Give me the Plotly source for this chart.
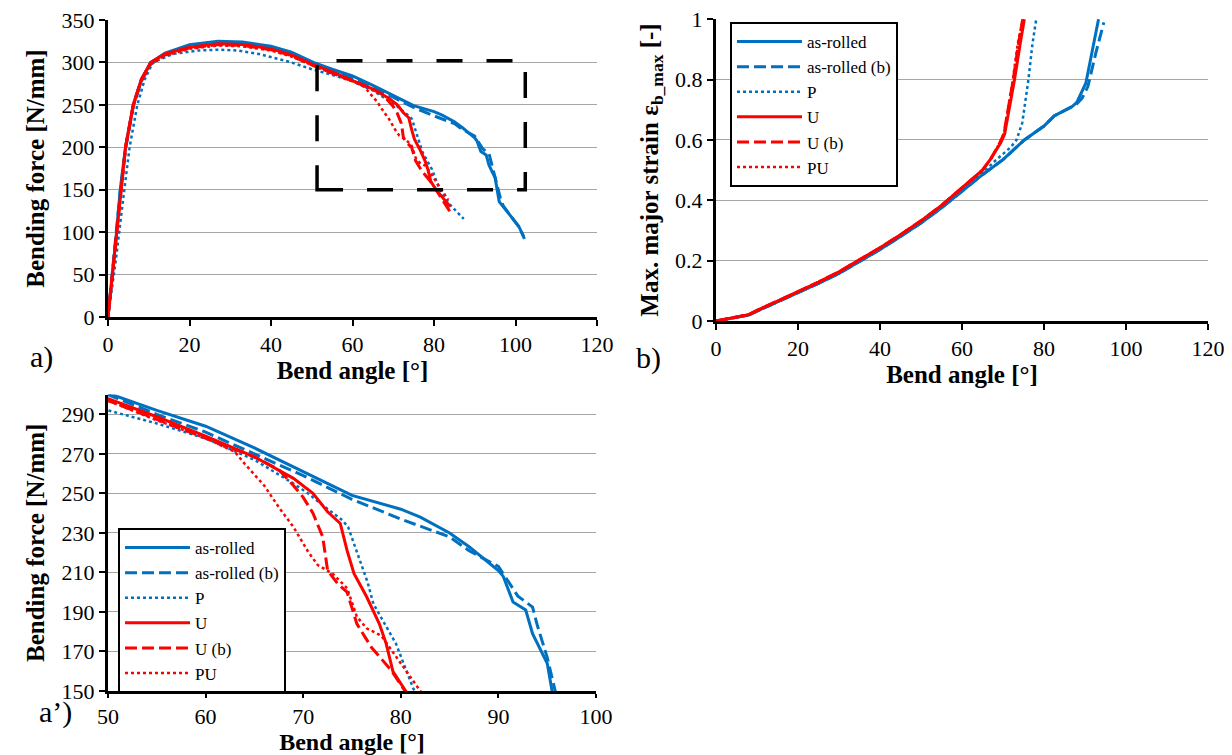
import plotly.graph_objects as go

# ---- bending force vs bend angle (panel a, zoomed in panel a') ----
ar_x = [0, 1, 2, 3, 4.3, 6.2, 8.2, 10.5, 14, 20, 27, 33, 40, 45, 50.4, 55, 60, 65, 70, 75, 80, 82, 85, 87,
        90, 90.5, 91.5, 92.8, 93.5, 95, 95.5, 96, 97, 98.8, 100.8, 102.2]
ar_y = [0, 45, 95, 150, 200, 250, 280, 300, 311, 321, 325, 324, 319, 312, 300, 292, 284, 273, 261, 249, 242, 238, 230, 223,
        211, 208, 195, 191, 179, 164, 150, 136, 130, 119, 107, 92]

arb_x = [0, 3, 4.3, 6.2, 8.2, 10.5, 14, 20, 27, 33, 40, 45, 50.5, 55, 60, 65, 70, 75, 80, 85, 87, 90, 92, 93.5, 94,
         95, 95.8, 96.3, 97, 99, 101, 102]
arb_y = [0, 148, 198, 248, 278, 298, 309, 319, 323, 322, 317, 310, 299, 290, 281, 270, 259, 247, 237, 228, 221, 213, 198, 192.5, 183,
         167, 150, 140, 131, 118, 105, 95]

p_x = [0, 2, 4, 5.3, 7.2, 9, 11, 16, 22, 27, 32, 37, 45, 50, 55, 60, 65, 69, 70.5, 72, 74, 74.6, 76.6, 77.2, 79.5,
       81.3, 84, 87.3]
p_y = [0, 70, 150, 200, 250, 280, 300, 310, 314, 315, 314, 310, 300, 292, 285.4, 277.8, 267, 255, 250, 244, 236.5, 233, 205, 194, 174,
       151, 132, 115.5]

u_x = [0, 3.1, 4.3, 6.2, 8.2, 10.5, 14, 20, 27, 33, 40, 45, 50, 55, 60, 65, 69, 71, 72.5, 73.8, 74.5, 75.2, 76.5,
       77.8, 78.5, 79.2, 80.5, 82, 84]
u_y = [0, 150, 200, 250, 280, 300, 310, 318, 322, 321, 316, 309, 298, 288.8, 279, 268.5, 257.6, 250, 240.7, 234.8, 221, 209.5, 197.7,
       184, 174, 159.8, 150, 141, 130]

ub_x = [0, 3.1, 4.3, 6.2, 8.2, 10.5, 14, 20, 27, 33, 40, 45, 50, 55, 60, 65, 67.5, 69, 70, 71, 72, 72.5, 73.5, 74.5,
        75.5, 77, 79, 80.5, 82.5, 84.4]
ub_y = [0, 150, 200, 250, 280, 300, 309, 317, 321, 320, 315, 308, 297, 287.5, 278, 268.5, 262, 254, 248, 240, 228, 211, 204.5, 200,
        184, 172, 160.6, 150, 135, 120.6]

pu_x = [0, 3.1, 4.3, 6.2, 8.2, 10.5, 14, 20, 27, 33, 40, 45, 50, 55, 60, 63, 64, 66, 67.5, 69, 70.5, 71.5, 73, 74.5,
        75.5, 76.5, 78, 80, 82, 83.5]
pu_y = [0, 148, 198, 248, 278, 298, 308, 316, 320, 319, 314, 307, 297, 287, 278, 271, 265, 254, 243, 233, 220.5, 213.7, 209.5, 202,
        187.6, 181.7, 178, 164, 150, 138]

# ---- max major strain vs bend angle (panel b) ----
sar_x = [0, 2, 4, 6, 8, 10, 15, 20, 25, 30, 35, 40, 45, 50, 55, 60, 65, 70, 75.2, 80, 82.5, 86.8, 88, 90.2, 91.7, 93.3]
sar_y = [0, 0.005, 0.01, 0.015, 0.02, 0.033, 0.063, 0.094, 0.125, 0.158, 0.197, 0.237, 0.28, 0.325, 0.375, 0.43, 0.485,
         0.535, 0.6, 0.646, 0.68, 0.71, 0.725, 0.788, 0.886, 1.0]

sarb_x = [0, 2, 4, 6, 8, 10, 15, 20, 25, 30, 35, 40, 45, 50, 55, 60, 65, 70, 75.2, 80, 82.5, 86, 87.8, 89.3, 90.7, 92.6, 94.6]
sarb_y = [0, 0.005, 0.01, 0.015, 0.02, 0.033, 0.063, 0.094, 0.125, 0.158, 0.197, 0.237, 0.28, 0.325, 0.375, 0.43, 0.485,
          0.535, 0.6, 0.646, 0.68, 0.705, 0.717, 0.739, 0.777, 0.886, 0.99]

sp_x = [0, 2, 4, 6, 8, 10, 15, 20, 25, 30, 35, 40, 45, 50, 55, 60, 65, 68, 71.8, 73.3, 74.7, 76.2, 77.2, 78.1]
sp_y = [0, 0.005, 0.01, 0.015, 0.02, 0.033, 0.063, 0.094, 0.125, 0.158, 0.197, 0.237, 0.28, 0.327, 0.378, 0.434, 0.49,
        0.53, 0.575, 0.6, 0.657, 0.8, 0.92, 1.0]

su_x = [0, 2, 4, 6, 8, 10, 15, 20, 25, 30, 35, 40, 45, 50, 55, 60, 65, 67, 69.4, 70.4, 71.8, 72.8, 74.2, 75.2]
su_y = [0, 0.006, 0.011, 0.016, 0.021, 0.035, 0.066, 0.097, 0.129, 0.163, 0.202, 0.243, 0.286, 0.332, 0.383, 0.44, 0.5,
        0.537, 0.59, 0.62, 0.72, 0.8, 0.92, 1.0]

sub_x = [0, 2, 4, 6, 8, 10, 15, 20, 25, 30, 35, 40, 45, 50, 55, 60, 65, 67, 69.2, 70.2, 71.5, 72.5, 73.8, 74.8]
sub_y = [0, 0.006, 0.011, 0.016, 0.021, 0.035, 0.066, 0.097, 0.129, 0.163, 0.202, 0.243, 0.286, 0.332, 0.383, 0.44, 0.5,
         0.537, 0.59, 0.62, 0.72, 0.8, 0.92, 1.0]

spu_x = [0, 2, 4, 6, 8, 10, 15, 20, 25, 30, 35, 40, 45, 50, 55, 60, 65, 67, 69.2, 70.2, 71.4, 72.4, 73.6, 74.6]
spu_y = [0, 0.006, 0.011, 0.016, 0.021, 0.035, 0.066, 0.097, 0.129, 0.163, 0.202, 0.243, 0.286, 0.332, 0.383, 0.44, 0.5,
         0.537, 0.59, 0.62, 0.72, 0.8, 0.92, 0.985]

labels = ["as-rolled", "as-rolled (b)", "P", "U", "U (b)", "PU"]
strain_ticks = [0, 0.2, 0.4, 0.6, 0.8, 1]
strain_ticktext = ["0", "0.2", "0.4", "0.6", "0.8", "1"]
# region of panel a shown enlarged in a'
zoom_box_x = [51.3, 102.4]
zoom_box_y = [150, 302]

BLUE = "#0070C0"
RED = "#FF0000"
styles = [(BLUE, "solid", 3), (BLUE, "12px,5px", 3), (BLUE, "3px,3px", 2.5),
          (RED, "solid", 3), (RED, "12px,5px", 3), (RED, "3px,3px", 2.5)]
FONT = "Liberation Serif"

force = [(ar_x, ar_y), (arb_x, arb_y), (p_x, p_y), (u_x, u_y), (ub_x, ub_y), (pu_x, pu_y)]
strain = [(sar_x, sar_y), (sarb_x, sarb_y), (sp_x, sp_y), (su_x, su_y), (sub_x, sub_y), (spu_x, spu_y)]

fig = go.Figure()

for (x, y), lab, (c, d, w) in zip(force, labels, styles):
    fig.add_trace(go.Scatter(x=x, y=y, mode="lines", name=lab, showlegend=False,
                             line=dict(color=c, dash=d, width=w), xaxis="x", yaxis="y"))
for (x, y), lab, (c, d, w) in zip(strain, labels, styles):
    fig.add_trace(go.Scatter(x=x, y=y, mode="lines", name=lab, legend="legend",
                             line=dict(color=c, dash=d, width=w), xaxis="x2", yaxis="y2"))
for (x, y), lab, (c, d, w) in zip(force, labels, styles):
    fig.add_trace(go.Scatter(x=x, y=y, mode="lines", name=lab, legend="legend2",
                             line=dict(color=c, dash=d, width=w), xaxis="x3", yaxis="y3"))

fig.add_shape(type="rect", xref="x", yref="y", x0=zoom_box_x[0], x1=zoom_box_x[1],
              y0=zoom_box_y[0], y1=zoom_box_y[1], line=dict(color="black", width=3.5, dash="26px,24px"))

# page body has an 8px margin, so the figure is 8px smaller and positions are shifted back by 8px
OFF = 8
W, H = 1232 - OFF, 755 - OFF


def px(xp):
    return (xp - OFF) / W


def py(yp):
    return 1 - (yp - OFF) / H


ax_common = dict(showline=True, linecolor="black", linewidth=3, ticks="outside", tickcolor="black",
                 tickwidth=2, ticklen=6, zeroline=False, automargin=False, ticklabeloverflow="allow",
                 tickfont=dict(family=FONT, size=22, color="black"))
grid = dict(showgrid=True, gridcolor="#a6a6a6", gridwidth=1.2)
title_font = dict(family=FONT, size=25, color="black")
legend_common = dict(xanchor="left", yanchor="top", bgcolor="white", bordercolor="black", borderwidth=2,
                     itemwidth=65, font=dict(family=FONT, size=17, color="black"))

fig.update_layout(
    width=W, height=H, margin=dict(l=0, r=0, t=0, b=0),
    paper_bgcolor="white", plot_bgcolor="white",
    font=dict(family=FONT, color="black"),
    xaxis=dict(domain=[px(108), px(597)], range=[0, 120], dtick=20, anchor="y", showgrid=False,
               title=dict(text="<b>Bend angle [°]</b>", font=title_font, standoff=2), **ax_common),
    yaxis=dict(domain=[py(317), py(20)], range=[0, 350], dtick=50, anchor="x",
               title=dict(text="<b>Bending force [N/mm]</b>", font=title_font, standoff=10), **grid, **ax_common),
    xaxis2=dict(domain=[px(716), px(1208)], range=[0, 120], dtick=20, anchor="y2", showgrid=False,
                title=dict(text="<b>Bend angle [°]</b>", font=title_font, standoff=4), **ax_common),
    yaxis2=dict(domain=[py(321), py(19)], range=[0, 1.001], tickmode="array", tickvals=strain_ticks,
                ticktext=strain_ticktext, anchor="x2",
                title=dict(text="<b>Max. major strain ε<sub>b_max</sub> [-]</b>", font=title_font, standoff=10),
                **grid, **ax_common),
    xaxis3=dict(domain=[px(108), px(596)], range=[50, 100], dtick=10, anchor="y3", showgrid=False,
                title=dict(text="<b>Bend angle [°]</b>", font=dict(family=FONT, size=24, color="black"),
                           standoff=0), **{**ax_common, "ticklen": 4}),
    yaxis3=dict(domain=[py(691), py(394.6)], range=[150, 300], tick0=150, dtick=20, anchor="x3",
                title=dict(text="<b>Bending force [N/mm]</b>", font=title_font, standoff=10), **grid, **ax_common),
    legend=dict(x=px(730), y=py(22), **legend_common),
    legend2=dict(x=px(118), y=py(528), **legend_common),
    annotations=[
        dict(text="a)", x=px(28), y=py(357), xref="paper", yref="paper", showarrow=False,
             font=dict(family=FONT, size=30, color="black")),
        dict(text="b)", x=px(648), y=py(358), xref="paper", yref="paper", showarrow=False,
             font=dict(family=FONT, size=30, color="black")),
        dict(text="a’)", x=px(37), y=py(731), xref="paper", yref="paper", showarrow=False,
             font=dict(family=FONT, size=30, color="black")),
    ],
)

fig.write_html("out.html")
